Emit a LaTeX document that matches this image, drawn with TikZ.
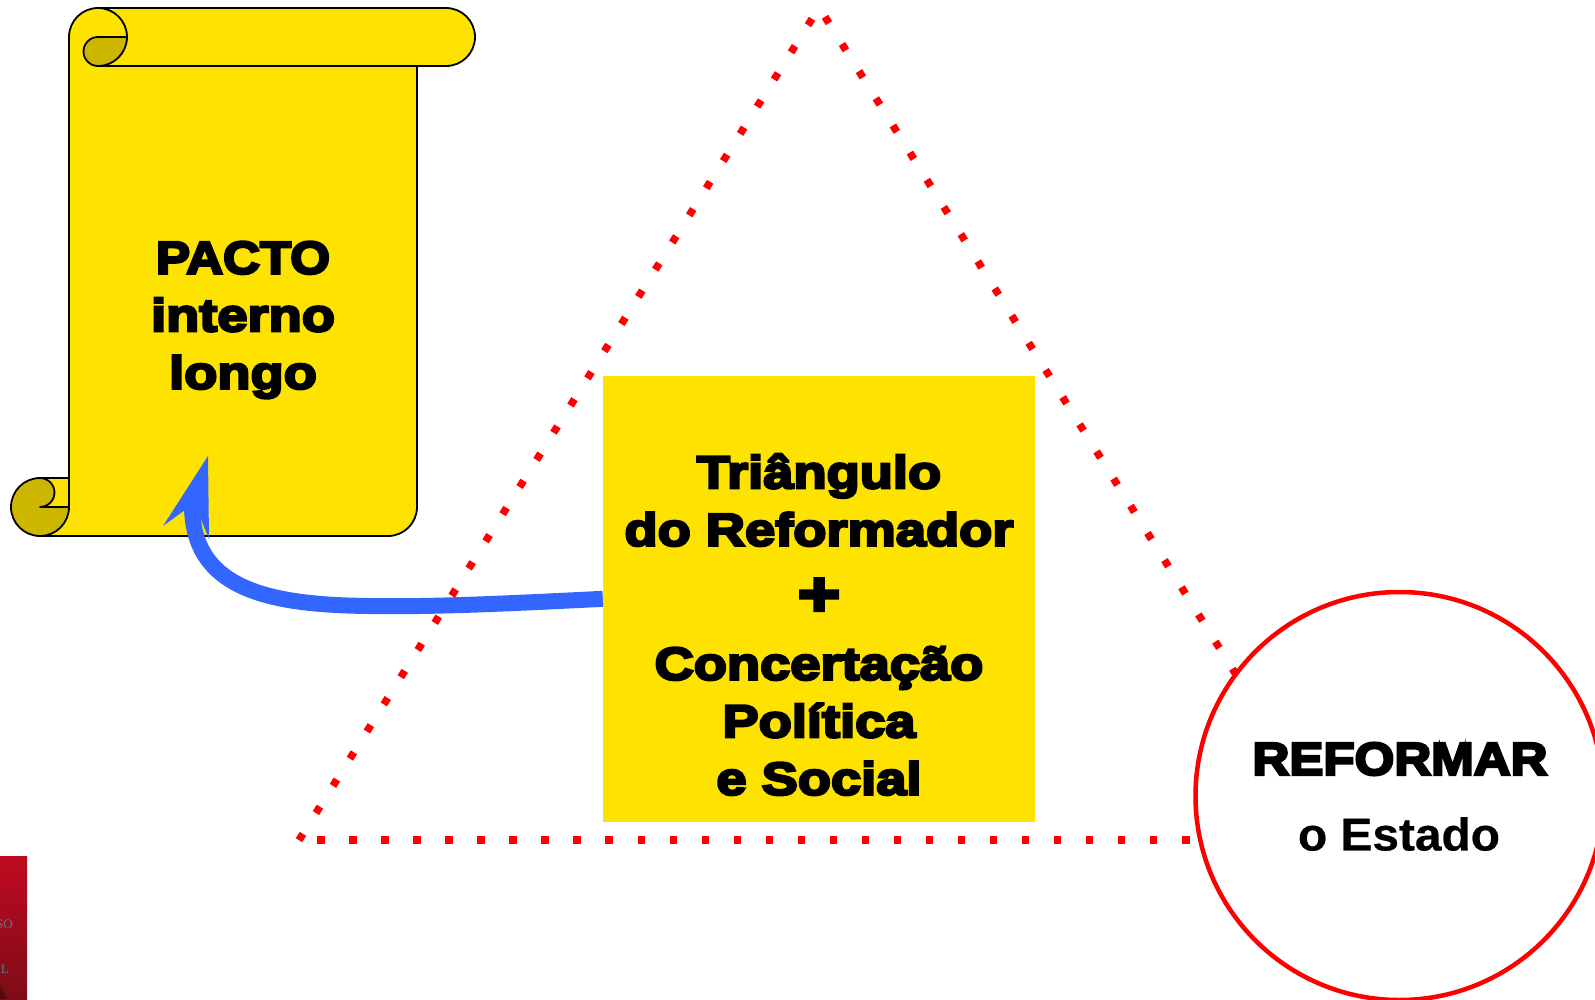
\documentclass[tikz,border=0pt]{standalone}
\usepackage{fontspec}
\setmainfont{Liberation Sans}
\newfontfamily\blackfont[FakeBold=5.5,FakeStretch=1.18]{Liberation Sans Bold}
\newfontfamily\blackcaps[FakeBold=5.5,FakeStretch=1.11]{Liberation Sans Bold}
\newfontfamily\estadofont[FakeBold=0.5,FakeStretch=1.04]{Liberation Sans Bold}
\newfontfamily\thumbfont{Liberation Serif}
\definecolor{scrollyellow}{HTML}{FFE300}
\definecolor{scrolldark}{HTML}{CCB600}
\definecolor{arrowblue}{HTML}{3366FF}
\definecolor{thumbtop}{HTML}{C00A20}
\definecolor{thumbbot}{HTML}{7E0C18}
\definecolor{thumbtext}{HTML}{4F8095}
\tikzset{
  scrollline/.style={draw=black,line width=1.8pt,line join=round},
  blacktext/.style={font=\blackfont\fontsize{46}{57.5}\selectfont,align=center,text=black,inner sep=0pt},
  dotline/.style={draw=red,line width=7.5pt,dash pattern=on 7.5pt off 24.53pt},
  thumblabel/.style={font=\thumbfont\fontsize{13}{13}\selectfont,text=thumbtext,anchor=east,inner sep=0pt},
}
\begin{document}
\begin{tikzpicture}[x=1pt,y=-1pt]
\useasboundingbox (0,0) rectangle (1595,999);
\fill[white] (0,0) rectangle (1595,999);
% thumbnail
\begin{scope}
\clip (0,856) rectangle (27,999);
\shade[top color=thumbtop,bottom color=thumbbot] (0,856) rectangle (27,999);
\fill[thumbbot!70!black] (0,985) -- (7,999) -- (0,999) -- cycle;
\node[thumblabel] (thumbA) at (13,924) {SO};
\node[thumblabel] (thumbB) at (9,969) {L};
\end{scope}
% triangle
\coordinate (apexL) at (812,18.8);
\coordinate (apexR) at (825,16.8);
\coordinate (cornerL) at (299,840.2);
\coordinate (cornerB) at (317.2,840);
\coordinate (rightend) at (1260,713);
\coordinate (bottomend) at (1260,840);
\draw[dotline] (cornerL) -- (apexL);
\draw[dotline] (apexR) -- (rightend);
\draw[dotline] (cornerB) -- (bottomend);
% scroll
\path[scrollline,fill=scrollyellow]
  (69,37) arc[start angle=180,end angle=270,radius=29]
  -- (446,8) arc[start angle=-90,end angle=90,radius=29]
  -- (417,66) -- (417,507) arc[start angle=0,end angle=90,radius=29]
  -- (40,536) -- (40,478) -- (69,478) -- cycle;
\draw[scrollline] (69,478) -- (69,507);
\draw[scrollline] (98,8) arc[start angle=-90,end angle=0,radius=29] -- (98,37);
\draw[scrollline,fill=scrolldark] (127,37) arc[start angle=0,end angle=90,radius=29]
  arc[start angle=90,end angle=270,radius=14.5] -- cycle;
\draw[scrollline] (98,66) -- (417,66);
\draw[scrollline,fill=scrolldark] (69,507) arc[start angle=0,end angle=270,radius=29]
  arc[start angle=-90,end angle=90,radius=14.5] -- cycle;
\node[blacktext] (pacto) at (243,320) {{\blackcaps PACTO}\\interno\\longo};
% box
\node[fill=scrollyellow,minimum width=432pt,minimum height=446pt,inner sep=0pt] (box) at (819,598.8) {};
\node[blacktext] (boxtext) at (819,624.5) {Triângulo\\do Reformador\\[12pt]{\fontsize{62}{62}\selectfont +}\\[7pt]Concertação\\Política\\e Social};
% arrow
\draw[arrowblue,line width=16pt] (box.west) .. controls (500,604) and (430,607) .. (370,606) .. controls (270,605) and (192,590) .. (192,505);
\fill[arrowblue] (208,456) -- (209,539) -- (200,517) -- (185,510) -- (163,526) -- cycle;
% circle
\node[circle,draw=red,line width=4.5pt,fill=white,minimum size=408pt,inner sep=0pt] (reform) at (1399.5,796) {};
\node[blacktext,font=\blackcaps\fontsize{46}{46}\selectfont] (reformA) at (1400,759) {REFORMAR};
\node[font=\estadofont\fontsize{46}{46}\selectfont,inner sep=0pt] (reformB) at (1399,834) {o Estado};
\end{tikzpicture}
\end{document}
